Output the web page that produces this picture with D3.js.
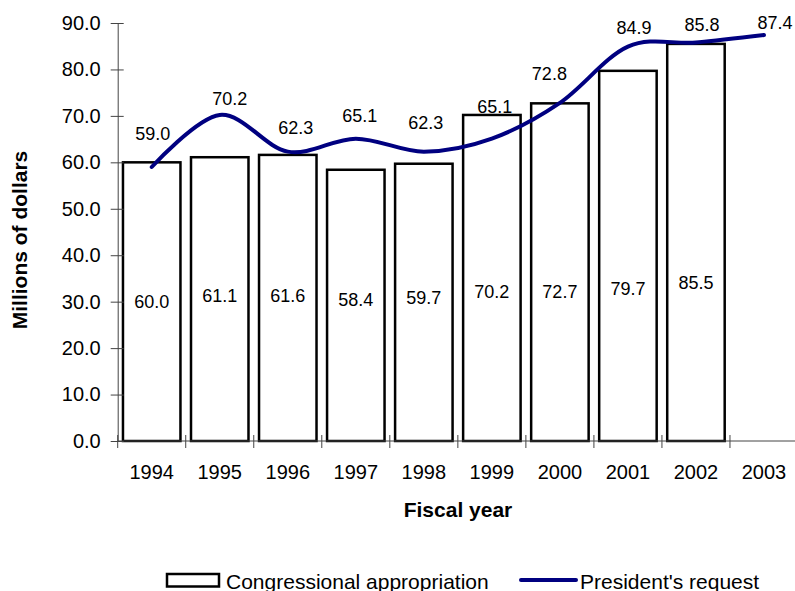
<!DOCTYPE html>
<html>
<head>
<meta charset="utf-8">
<script src="https://cdn.jsdelivr.net/npm/d3@7"></script>
<style>
  html, body { margin: 0; padding: 0; background: #fff; }
  svg { display: block; font-family: "Liberation Sans", Arial, sans-serif; }
</style>
</head>
<body>
<svg id="chart" width="795" height="591"></svg>
<script>
// ---- data ----
const years = ["1994","1995","1996","1997","1998","1999","2000","2001","2002","2003"];
const barYears = ["1994","1995","1996","1997","1998","1999","2000","2001","2002"];
const appropriation = [60.0, 61.1, 61.6, 58.4, 59.7, 70.2, 72.7, 79.7, 85.5];
const request = [59.0, 70.2, 62.3, 65.1, 62.3, 65.1, 72.8, 84.9, 85.8, 87.4];
const yTicks = [0, 10, 20, 30, 40, 50, 60, 70, 80, 90];
const seriesNames = ["Congressional appropriation", "President's request"];

// ---- layout (label placement, not data) ----
const barLabelY = [302, 296, 296, 300, 298, 292, 292, 289, 282.5];
const reqLabelDx = [1, 10, 8, 4, 2, 3, -10.5, 6, 6, 11];
const reqLabelDy = [-33, -16, -23.6, -22.6, -28.6, -31.6, -29, -19.4, -17.5, -12.6];

const svg = d3.select("#chart");
const plotLeft = 117.7, plotRight = 798, plotTop = 23, plotBottom = 441;

const x = d3.scaleBand().domain(years).range([plotLeft, plotRight]).padding(0);
const y = d3.scaleLinear().domain([0, 90]).range([plotBottom, plotTop]);
const bw = x.bandwidth();
const barW = bw * 0.845;

// bars
svg.append("g").selectAll("rect")
  .data(barYears.map((d, i) => ({ year: d, v: appropriation[i] })))
  .join("rect")
  .attr("x", d => x(d.year) + (bw - barW) / 2)
  .attr("y", d => y(d.v))
  .attr("width", barW)
  .attr("height", d => y(0) - y(d.v))
  .attr("fill", "#fff")
  .attr("stroke", "#000")
  .attr("stroke-width", 2.5);

// Y axis
const yAxis = svg.append("g")
  .attr("transform", `translate(${plotLeft},0)`)
  .call(d3.axisLeft(y).tickValues(yTicks).tickFormat(d3.format(".1f"))
    .tickSizeInner(7).tickSizeOuter(0).tickPadding(10));
yAxis.select(".domain").attr("stroke", "#444").attr("stroke-width", 1);
yAxis.selectAll(".tick line").attr("x1", 6).attr("stroke", "#444");
yAxis.selectAll(".tick text").attr("font-size", 20).attr("fill", "#000")
  .attr("font-family", "'Liberation Sans', Arial, sans-serif");

// X axis (labels at band centers)
const xAxis = svg.append("g")
  .attr("transform", `translate(0,${plotBottom})`)
  .call(d3.axisBottom(x).tickSize(0).tickPadding(24));
xAxis.select(".domain").remove();
xAxis.selectAll(".tick text").attr("font-size", 20).attr("fill", "#000")
  .attr("font-family", "'Liberation Sans', Arial, sans-serif");
xAxis.append("line")
  .attr("x1", plotLeft).attr("x2", plotRight)
  .attr("y1", 0).attr("y2", 0)
  .attr("stroke", "#444").attr("stroke-width", 1);
xAxis.selectAll("line.bound")
  .data(years)
  .join("line")
  .attr("class", "bound")
  .attr("x1", d => x(d)).attr("x2", d => x(d))
  .attr("y1", -6).attr("y2", 7)
  .attr("stroke", "#444").attr("stroke-width", 1);

// line
const linePts = years.map((d, i) => ({ year: d, v: request[i] }));
const lineGen = d3.line()
  .x(d => x(d.year) + bw / 2)
  .y(d => y(d.v))
  .curve(d3.curveCardinal.tension(0));
svg.append("path")
  .datum(linePts)
  .attr("d", lineGen)
  .attr("fill", "none")
  .attr("stroke", "#000080")
  .attr("stroke-width", 4)
  .attr("stroke-linecap", "round");

// bar labels
svg.append("g").selectAll("text")
  .data(barYears.map((d, i) => ({ year: d, v: appropriation[i], ly: barLabelY[i] })))
  .join("text")
  .attr("x", d => x(d.year) + bw / 2)
  .attr("y", d => d.ly)
  .attr("dy", "0.35em")
  .attr("text-anchor", "middle")
  .attr("font-size", 18)
  .text(d => d3.format(".1f")(d.v));

// request labels
svg.append("g").selectAll("text")
  .data(linePts.map((d, i) => ({ ...d, dx: reqLabelDx[i], dy: reqLabelDy[i] })))
  .join("text")
  .attr("x", d => x(d.year) + bw / 2 + d.dx)
  .attr("y", d => y(d.v) + d.dy)
  .attr("dy", "0.35em")
  .attr("text-anchor", "middle")
  .attr("font-size", 18)
  .text(d => d3.format(".1f")(d.v));

// axis titles
svg.append("text")
  .attr("transform", "translate(19.5,240) rotate(-90)")
  .attr("text-anchor", "middle")
  .attr("dy", "0.35em")
  .attr("font-size", 21)
  .attr("font-weight", "bold")
  .text("Millions of dollars");
svg.append("text")
  .attr("x", 458).attr("y", 517)
  .attr("text-anchor", "middle")
  .attr("font-size", 21)
  .attr("font-weight", "bold")
  .text("Fiscal year");

// legend
const leg = svg.append("g");
leg.append("rect")
  .attr("x", 167).attr("y", 574).attr("width", 52).attr("height", 12.5)
  .attr("fill", "#fff").attr("stroke", "#000").attr("stroke-width", 2.5);
leg.append("text")
  .attr("x", 226).attr("y", 588.5)
  .attr("font-size", 21)
  .text(seriesNames[0]);
leg.append("line")
  .attr("x1", 521).attr("x2", 576).attr("y1", 580).attr("y2", 580)
  .attr("stroke", "#000080").attr("stroke-width", 4).attr("stroke-linecap", "round");
leg.append("text")
  .attr("x", 580).attr("y", 588.5)
  .attr("font-size", 21)
  .text(seriesNames[1]);
</script>
</body>
</html>
